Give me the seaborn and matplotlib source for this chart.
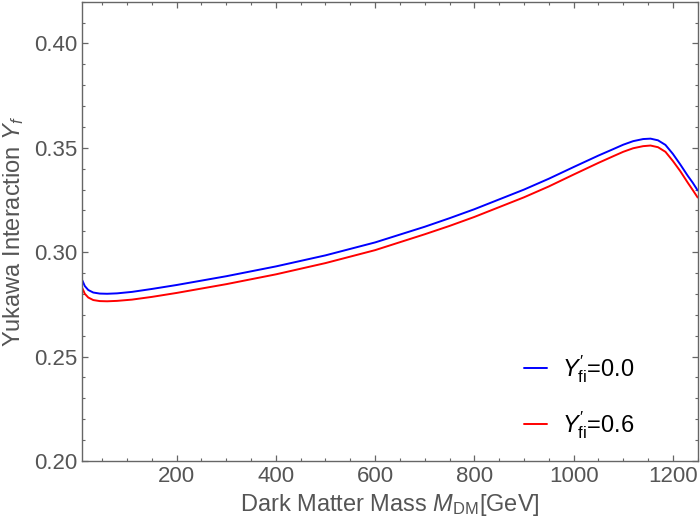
import numpy as np
import pandas as pd
import matplotlib
matplotlib.use("Agg")
import matplotlib.pyplot as plt
from matplotlib.ticker import MultipleLocator, FormatStrFormatter
import seaborn as sns

# ── Données ────────────────────────────────────────────────────────────────
mass = [10, 15, 22, 32, 45, 60, 80, 110, 150, 200, 300, 400, 500, 600, 700,
        750, 800, 850, 900, 950, 1000, 1050, 1080, 1100, 1120, 1140, 1155,
        1170, 1185, 1200, 1215, 1230, 1240, 1250]

yuk_00 = [0.2865, 0.2838, 0.2819, 0.2807, 0.2802, 0.2801, 0.2803, 0.2810,
          0.2824, 0.2843, 0.2885, 0.2932, 0.2985, 0.3047, 0.3122,
          0.3163, 0.3206, 0.3253, 0.3300, 0.3352, 0.3408, 0.3463, 0.3494,
          0.3515, 0.3532, 0.3542, 0.3544,
          0.3536, 0.3514, 0.3471, 0.3420, 0.3366, 0.3333, 0.3296]

yuk_06 = [0.2828, 0.2801, 0.2783, 0.2771, 0.2766, 0.2765, 0.2767, 0.2773,
          0.2786, 0.2805, 0.2847, 0.2894, 0.2948, 0.3010, 0.3086,
          0.3126, 0.3169, 0.3216, 0.3263, 0.3315, 0.3372, 0.3428, 0.3460,
          0.3481, 0.3498, 0.3508, 0.3511,
          0.3503, 0.3481, 0.3437, 0.3388, 0.3333, 0.3298, 0.3262]

labels = [r"$Y^{\prime}_{\mathrm{fi}}$=0.0", r"$Y^{\prime}_{\mathrm{fi}}$=0.6"]
colors = ["#0000ff", "#ff0000"]

df = pd.DataFrame({
    "mass": mass * 2,
    "yuk": yuk_00 + yuk_06,
    "serie": [labels[0]] * len(mass) + [labels[1]] * len(mass),
})

# ── Style ──────────────────────────────────────────────────────────────────
sns.set_style("ticks")
plt.rcParams["font.family"] = ["Liberation Sans", "DejaVu Sans"]
plt.rcParams["mathtext.fontset"] = "custom"
plt.rcParams["mathtext.rm"] = "Liberation Sans"
plt.rcParams["mathtext.it"] = "Liberation Sans:italic"
plt.rcParams["mathtext.bf"] = "Liberation Sans:bold"

GRIS = "#666666"
TXT = "#555555"

fig = plt.figure(figsize=(7.0, 5.24), dpi=100)
ax = fig.add_axes([0.1176, 0.1202, 0.8791, 0.8766])

sns.lineplot(data=df, x="mass", y="yuk", hue="serie", palette=colors,
             linewidth=1.4, ax=ax)

ax.set_xlim(10, 1250)
ax.set_ylim(0.20, 0.42)
ax.xaxis.set_major_locator(MultipleLocator(200))
ax.xaxis.set_minor_locator(MultipleLocator(50))
ax.yaxis.set_major_locator(MultipleLocator(0.05))
ax.yaxis.set_minor_locator(MultipleLocator(0.01))
ax.yaxis.set_major_formatter(FormatStrFormatter("%.2f"))
ax.set_yticks([0.20, 0.25, 0.30, 0.35, 0.40])

for s in ax.spines.values():
    s.set_color(GRIS)
    s.set_linewidth(1.0)
ax.tick_params(which="both", direction="in", top=True, right=True,
               color=GRIS, labelcolor=TXT, labelsize=16)
ax.tick_params(which="major", length=4, width=0.9)
ax.tick_params(which="minor", length=2.3, width=0.8)

ax.set_xlabel(r"Dark Matter Mass $M_{\mathrm{DM}}$[GeV]", fontsize=17,
              color=TXT, labelpad=4)
ax.set_ylabel(r"Yukawa Interaction $Y_f$", fontsize=17, color=TXT,
              labelpad=6)

leg = ax.legend(loc="upper left", bbox_to_anchor=(0.683, 0.28), frameon=False,
                fontsize=17, handlelength=1.0, handletextpad=0.6,
                labelspacing=1.0, title=None)
for t in leg.get_texts():
    t.set_color("black")

fig.savefig("out.png", dpi=100)
